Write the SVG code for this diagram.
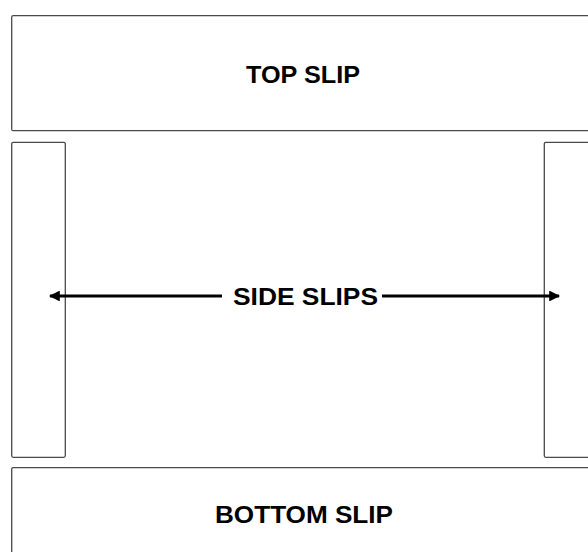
<svg xmlns="http://www.w3.org/2000/svg" width="588" height="552" viewBox="0 0 588 552">
<style>
.slip{fill:#fff;stroke:#4a4a4a;stroke-width:1.3}
.lbl{font-family:"Liberation Sans",Arial,sans-serif;font-weight:bold;font-size:24.5px;fill:#000;text-anchor:middle}
.conn{stroke:#000;stroke-width:3.2;fill:none}
</style>
<defs>
<marker id="ah" viewBox="0 0 10 10" refX="9" refY="5" markerWidth="5" markerHeight="3.4" orient="auto" markerUnits="strokeWidth">
<path d="M0,0 L10,5 L0,10 z" fill="#000"/>
</marker>
</defs>
<rect width="588" height="552" fill="#fff"/>
<g id="top-slip">
<rect class="slip" x="11.7" y="15.7" width="600" height="115" rx="1.5"/>
<text class="lbl" x="303" y="83.3" textLength="114" lengthAdjust="spacingAndGlyphs">TOP SLIP</text>
</g>
<g id="left-side-slip">
<rect class="slip" x="11.7" y="142.3" width="53.6" height="315" rx="1.5"/>
</g>
<g id="right-side-slip">
<rect class="slip" x="544.3" y="142.3" width="60" height="315" rx="1.5"/>
</g>
<g id="bottom-slip">
<rect class="slip" x="11.7" y="467.7" width="600" height="100" rx="1.5"/>
<text class="lbl" x="304" y="523.3" textLength="178" lengthAdjust="spacingAndGlyphs">BOTTOM SLIP</text>
</g>
<g id="side-slips-label">
<text class="lbl" x="305.5" y="305" textLength="145" lengthAdjust="spacingAndGlyphs">SIDE SLIPS</text>
</g>
<g id="connectors">
<line class="conn" x1="222" y1="296" x2="50" y2="296" marker-end="url(#ah)"/>
<line class="conn" x1="382" y1="296" x2="559" y2="296" marker-end="url(#ah)"/>
</g>
</svg>
